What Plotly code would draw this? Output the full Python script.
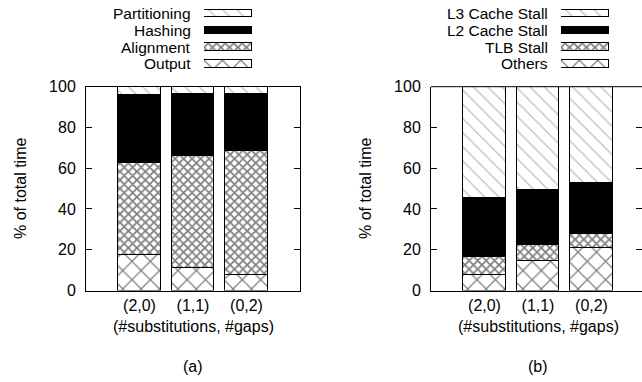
import plotly.graph_objects as go

W, H = 642, 382

categories = ["(2,0)", "(1,1)", "(0,2)"]

# Panel (a)
a_names = ["Output", "Alignment", "Hashing", "Partitioning"]
a_output = [17.7, 11.1, 7.9]
a_alignment = [44.9, 55.1, 60.6]
a_hashing = [33.3, 30.2, 28.2]
a_partitioning = [4.1, 3.6, 3.3]

# Panel (b)
b_names = ["Others", "TLB Stall", "L2 Cache Stall", "L3 Cache Stall"]
b_others = [7.9, 14.6, 20.8]
b_tlb = [8.5, 8.0, 7.2]
b_l2 = [29.2, 26.9, 25.1]
b_l3 = [54.4, 50.5, 46.9]

yticks = [0, 20, 40, 60, 80, 100]

FONT = "Liberation Sans, Arial, Helvetica, sans-serif"
FS = 16
LFS = 15.5

styles = [
    dict(color="white", pattern=dict(shape="x", size=13, solidity=0.18, fgcolor="black", bgcolor="white")),
    dict(color="white", pattern=dict(shape="x", size=6, solidity=0.5, fgcolor="#000", bgcolor="white")),
    dict(color="black", pattern=dict(shape="")),
    dict(color="white", pattern=dict(shape="\\", size=10, solidity=0.12, fgcolor="#777", bgcolor="white")),
]

def px2x(p):
    return p / W

def px2y(p):
    return 1 - p / H

fig = go.Figure()

xs = list(range(len(categories)))
for series, name, st in zip([a_output, a_alignment, a_hashing, a_partitioning], a_names, styles):
    fig.add_trace(go.Bar(x=xs, y=series, name=name, width=0.8, xaxis="x", yaxis="y",
                         marker=dict(color=st["color"], pattern=st["pattern"],
                                     line=dict(color="black", width=1)), showlegend=False))
for series, name, st in zip([b_others, b_tlb, b_l2, b_l3], b_names, styles):
    fig.add_trace(go.Bar(x=xs, y=series, name=name, width=0.8, xaxis="x2", yaxis="y2",
                         marker=dict(color=st["color"], pattern=st["pattern"],
                                     line=dict(color="black", width=1)), showlegend=False))

# Legend swatches (own small axes)
rows = [0, 1, 2, 3]
for i, st in enumerate(styles):
    for xa, ya in (("x3", "y3"), ("x4", "y4")):
        fig.add_trace(go.Bar(x=[1], y=[rows[i]], orientation="h", width=0.45, base=0,
                             xaxis=xa, yaxis=ya, showlegend=False,
                             marker=dict(color=st["color"], pattern=st["pattern"],
                                         line=dict(color="black", width=1))))

top_px, bot_px = 86.7, 290.5
ydom = [px2y(bot_px), px2y(top_px)]

axis_common = dict(showgrid=False, zeroline=False, linecolor="black", linewidth=1, automargin=False,
                   tickfont=dict(family=FONT, size=FS, color="black"))

fig.update_layout(
    width=W, height=H, margin=dict(l=0, r=0, t=0, b=0, pad=0, autoexpand=False),
    paper_bgcolor="white", plot_bgcolor="white",
    barmode="stack", bargap=0, showlegend=False,
    font=dict(family=FONT, size=FS, color="black"),
    xaxis=dict(domain=[px2x(86), px2x(300)], range=[-1, 3], tickvals=xs, ticktext=categories,
               ticks="", showline=True, mirror=True, anchor="y", **axis_common),
    yaxis=dict(domain=ydom, range=[0, 100], tickvals=yticks, ticks="inside", ticklen=6,
               tickcolor="black", showline=True, mirror="ticks", anchor="x",
               ticklabelstandoff=6, **axis_common),
    xaxis2=dict(domain=[px2x(431), 1.0], range=[-1, 3 - 3 / 53.5], tickvals=xs, ticktext=categories,
                ticks="", showline=True, mirror=False, anchor="y2", **axis_common),
    yaxis2=dict(domain=ydom, range=[0, 100], tickvals=yticks, ticks="inside", ticklen=6,
                tickcolor="black", showline=True, mirror=False, anchor="x2",
                ticklabelstandoff=6, **axis_common),
    yaxis5=dict(domain=ydom, range=[0, 100], tickvals=yticks, ticks="inside", ticklen=6,
                tickcolor="black", showline=False, overlaying="y2", side="right", automargin=False,
                showticklabels=False, showgrid=False, zeroline=False, anchor="x2"),
    xaxis3=dict(domain=[px2x(204), px2x(252)], range=[0, 1], visible=False, anchor="y3", automargin=False),
    yaxis3=dict(domain=[px2y(72), px2y(5)], range=[-0.476, 3.506], visible=False, anchor="x3", automargin=False),
    xaxis4=dict(domain=[px2x(561), px2x(609)], range=[0, 1], visible=False, anchor="y4", automargin=False),
    yaxis4=dict(domain=[px2y(72), px2y(5)], range=[-0.476, 3.506], visible=False, anchor="x4", automargin=False),
)

# Top frame line for panel (b)
fig.add_shape(type="line", xref="x2 domain", yref="y2 domain", x0=0, x1=1, y0=1, y1=1,
              line=dict(color="black", width=1))
fig.add_trace(go.Scatter(x=[None], y=[None], xaxis="x2", yaxis="y5", showlegend=False))

row_px = [64, 47.2, 30.4, 13.6]
ann = []
for i in range(4):
    ann.append(dict(text=a_names[i], x=px2x(193), y=px2y(row_px[i]), xref="paper", yref="paper",
                    xanchor="right", yanchor="middle", showarrow=False,
                    font=dict(family=FONT, size=LFS, color="black")))
    ann.append(dict(text=b_names[i], x=px2x(550), y=px2y(row_px[i]), xref="paper", yref="paper",
                    xanchor="right", yanchor="middle", showarrow=False,
                    font=dict(family=FONT, size=LFS, color="black")))
for xc, lab in ((193, "(a)"), (538, "(b)")):
    ann.append(dict(text="(#substitutions, #gaps)", x=px2x(xc), y=px2y(326), xref="paper", yref="paper",
                    xanchor="center", yanchor="middle", showarrow=False,
                    font=dict(family=FONT, size=FS, color="black")))
    ann.append(dict(text=lab, x=px2x(xc), y=px2y(366), xref="paper", yref="paper",
                    xanchor="center", yanchor="middle", showarrow=False,
                    font=dict(family=FONT, size=FS, color="black")))
for xc in (20, 365):
    ann.append(dict(text="% of total time", x=px2x(xc), y=px2y(189), xref="paper", yref="paper",
                    xanchor="center", yanchor="middle", showarrow=False, textangle=-90,
                    font=dict(family=FONT, size=FS, color="black")))
fig.update_layout(annotations=ann)

fig.write_html("out.html", config={"displayModeBar": False},
               post_script="document.body.style.margin='0';document.body.style.overflow='hidden';")
